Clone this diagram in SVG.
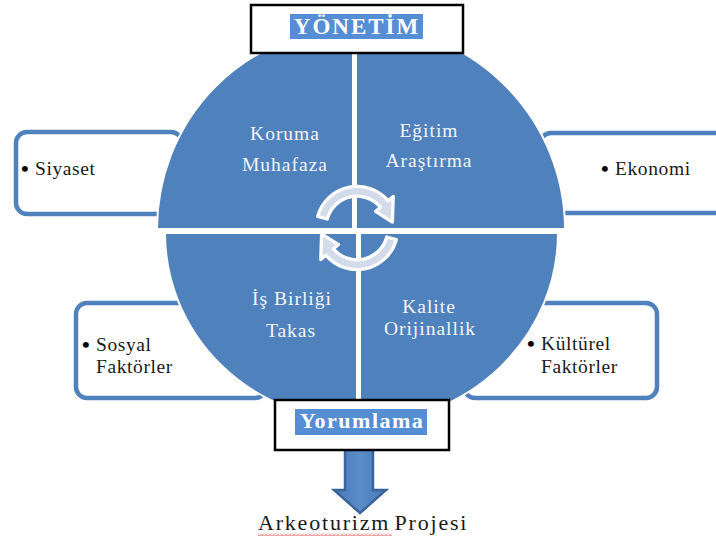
<svg xmlns="http://www.w3.org/2000/svg" width="716" height="541" viewBox="0 0 716 541">
<defs>
<style>
.side{fill:#fff;stroke:#4f81bd;stroke-width:4.5}
.quad{fill:#4f81bd;stroke:#fff;stroke-width:2}
.qt{font-family:"Liberation Serif",serif;font-size:19.5px;fill:#f4f4f4;text-anchor:middle;letter-spacing:1px}
.st{font-family:"Liberation Serif",serif;font-size:19.5px;fill:#1a1a1a;letter-spacing:0.6px}
.bl{font-family:"Liberation Serif",serif;font-size:22px;font-weight:bold;fill:#000}
.hl{fill:#558ed5}
.ht{font-family:"Liberation Serif",serif;font-weight:bold;fill:#fff;text-anchor:middle}
.tbox{fill:#fff;stroke:#000;stroke-width:2.5}
.cyc{fill:#d3dbea;stroke:#fff;stroke-width:3;stroke-linejoin:round}
</style>
<linearGradient id="ag" x1="0" y1="0" x2="1" y2="0">
<stop offset="0" stop-color="#4a7ab5"/><stop offset="0.5" stop-color="#5a8cca"/><stop offset="1" stop-color="#4a7ab5"/>
</linearGradient>
<pattern id="wavy" x="0" y="0" width="4" height="3" patternUnits="userSpaceOnUse">
<path d="M0,2.5 L2,0.5 L4,2.5" fill="none" stroke="#e03030" stroke-width="0.9"/>
</pattern>
<path id="cyc" d="M-35.74,-9.58 A37,37 0 0 1 28.34,-23.78 L32.94,-27.64 L32.18,-4.52 L16.85,-14.14 L21.45,-18 A28,28 0 0 0 -27.05,-7.25 Z"/>
</defs>

<g id="siyaset">
<rect class="side" x="16" y="132" width="166" height="82" rx="11"/>
<text class="bl" x="21" y="176">•</text>
<text class="st" x="35" y="175">Siyaset</text>
</g>
<g id="ekonomi">
<rect class="side" x="540" y="133" width="200" height="80" rx="11"/>
<text class="bl" x="601" y="176">•</text>
<text class="st" x="615" y="175">Ekonomi</text>
</g>
<g id="sosyal">
<rect class="side" x="76" y="303" width="190" height="95" rx="11"/>
<text class="bl" x="82" y="352">•</text>
<text class="st" x="96" y="351">Sosyal</text>
<text class="st" x="96" y="373">Faktörler</text>
</g>
<g id="kulturel">
<rect class="side" x="464" y="303" width="193" height="95" rx="11"/>
<text class="bl" x="527" y="351">•</text>
<text class="st" x="541" y="350">Kültürel</text>
<text class="st" x="541" y="373">Faktörler</text>
</g>

<g id="koruma">
<path class="quad" d="M353,229 L157,229 A196,200 0 0 1 353,29 Z"/>
<text class="qt" x="285" y="140">Koruma</text>
<text class="qt" x="285" y="171">Muhafaza</text>
</g>
<g id="egitim">
<path class="quad" d="M356,229 L356,24 A209,205 0 0 1 565,229 Z"/>
<text class="qt" x="429" y="137">Eğitim</text>
<text class="qt" x="429" y="167">Araştırma</text>
</g>
<g id="isbirligi">
<path class="quad" d="M357,233 L357,420 A192,187 0 0 1 165,233 Z"/>
<text class="qt" x="292" y="305">İş Birliği</text>
<text class="qt" x="291" y="337">Takas</text>
</g>
<g id="kalite">
<path class="quad" d="M360,233 L558,233 A198,190 0 0 1 360,423 Z"/>
<text class="qt" x="429" y="313">Kalite</text>
<text class="qt" x="430" y="335">Orijinallik</text>
</g>

<g id="connectors">
<use href="#cyc" class="cyc" transform="translate(357,227) scale(1.1)"/>
<use href="#cyc" class="cyc" transform="translate(357,229) rotate(180) scale(1.1)"/>
<path d="M345,449 L373,449 L373,490 L386,490 L360,513 L334,490 L345,490 Z" fill="url(#ag)" stroke="#3a659c" stroke-width="2.5" stroke-linejoin="miter"/>
</g>

<g id="yonetim">
<rect class="tbox" x="251" y="5" width="212" height="48"/>
<rect class="hl" x="290" y="14" width="133" height="25"/>
<text class="ht" x="357" y="34" style="font-size:23px;letter-spacing:2px">YÖNETİM</text>
</g>
<g id="yorumlama">
<rect class="tbox" x="275" y="400" width="174" height="50"/>
<rect class="hl" x="295" y="409" width="132" height="26"/>
<text class="ht" x="362" y="428" style="font-size:22px;letter-spacing:1.5px">Yorumlama</text>
</g>
<g id="proje">
<text x="258" y="530" style="font-family:'Liberation Serif',serif;font-size:22px;fill:#1a1a1a;letter-spacing:1.8px;word-spacing:-3px">Arkeoturizm Projesi</text>
<rect x="258" y="533" width="134" height="3" fill="url(#wavy)"/>
</g>
</svg>
